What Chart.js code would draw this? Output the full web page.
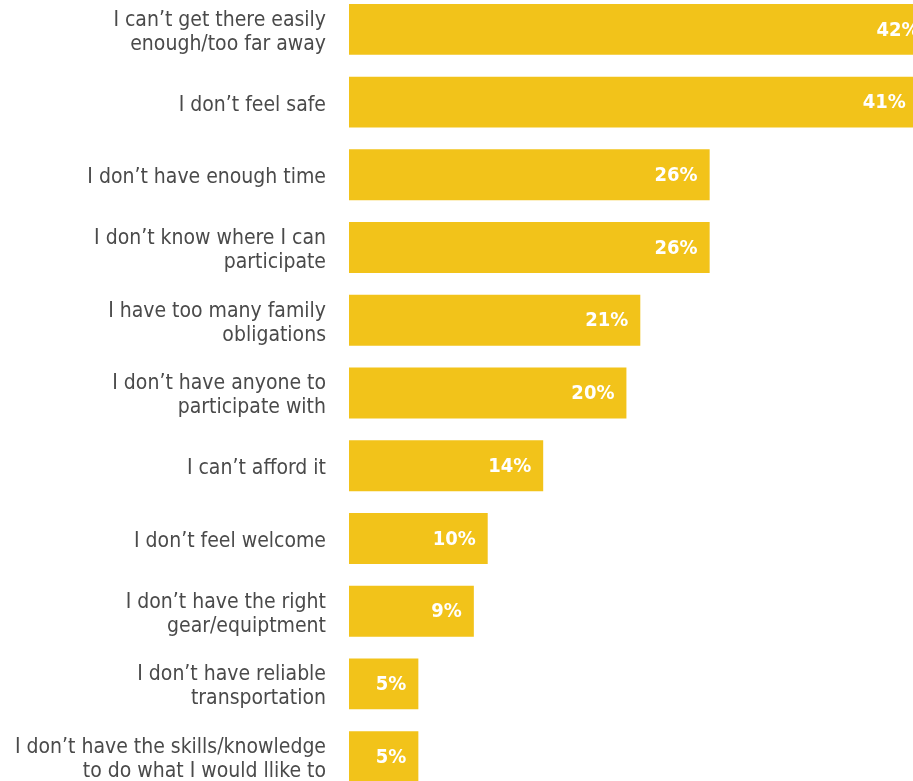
<!DOCTYPE html>
<html>
<head>
<meta charset="utf-8">
<script src="https://cdn.jsdelivr.net/npm/chart.js@4.4.1/dist/chart.umd.min.js"></script>
<style>
	html, body { margin: 0; padding: 0; background: #fff; overflow: hidden; }
	#wrap { position: relative; width: 913px; height: 800px; margin-top: -7px; }
</style>
</head>
<body>
<div id="wrap"><canvas id="myChart"></canvas></div>
<script>
/* Datos del grafico */
const categorias = [
	["I can\u2019t get there easily", "enough/too far away"],
	"I don\u2019t feel safe",
	"I don\u2019t have enough time",
	["I don\u2019t know where I can", "participate"],
	["I have too many family", "obligations"],
	["I don\u2019t have anyone to", "participate with"],
	"I can\u2019t afford it",
	"I don\u2019t feel welcome",
	["I don\u2019t have the right", "gear/equiptment"],
	["I don\u2019t have reliable", "transportation"],
	["I don\u2019t have the skills/knowledge", "to do what I would llike to"]
];
const valores = [42, 41, 26, 26, 21, 20, 14, 10, 9, 5, 5];
const etiquetas = ["42%", "41%", "26%", "26%", "21%", "20%", "14%", "10%", "9%", "5%", "5%"];

const fuente = "'DejaVu Sans Condensed', 'Liberation Sans Narrow', 'Roboto', sans-serif";

/* Etiquetas de valor dentro de las barras */
const etiquetasBarras = {
	id: 'etiquetasBarras',
	afterDatasetsDraw(chart) {
		const ctx = chart.ctx;
		const meta = chart.getDatasetMeta(0);
		ctx.save();
		ctx.fillStyle = '#ffffff';
		ctx.font = "bold 20px " + fuente;
		ctx.textAlign = 'right';
		ctx.textBaseline = 'middle';
		meta.data.forEach(function (bar, i) {
			ctx.fillText(etiquetas[i], bar.x - 12, bar.y + 1);
		});
		ctx.restore();
	}
};

const data = {
	labels: categorias,
	datasets: [{
		data: valores,
		backgroundColor: '#F2C31A',
		borderWidth: 0,
		barPercentage: 0.7,
		categoryPercentage: 1.0
	}]
};

var ctx = document.getElementById('myChart');
var myChart = new Chart(ctx, {
	type: 'bar',
	data: data,
	plugins: [etiquetasBarras],
	options: {
		indexAxis: 'y',
		responsive: true,
		maintainAspectRatio: false,
		animation: false,
		layout: { padding: 0 },
		plugins: {
			legend: { display: false },
			tooltip: { enabled: false }
		},
		scales: {
			x: {
				min: 0,
				max: 40.66,
				display: false
			},
			y: {
				border: { display: false },
				grid: { display: false, drawTicks: false, tickLength: 0 },
				afterFit: function (scale) {
					scale.width = 349;
					scale.paddingTop = 0;
					scale.paddingBottom = 0;
				},
				ticks: {
					color: '#4a4a4a',
					padding: 23,
					labelOffset: 3,
					font: { family: fuente, size: 21, lineHeight: 1.14 }
				}
			}
		}
	}
});
</script>
</body>
</html>
